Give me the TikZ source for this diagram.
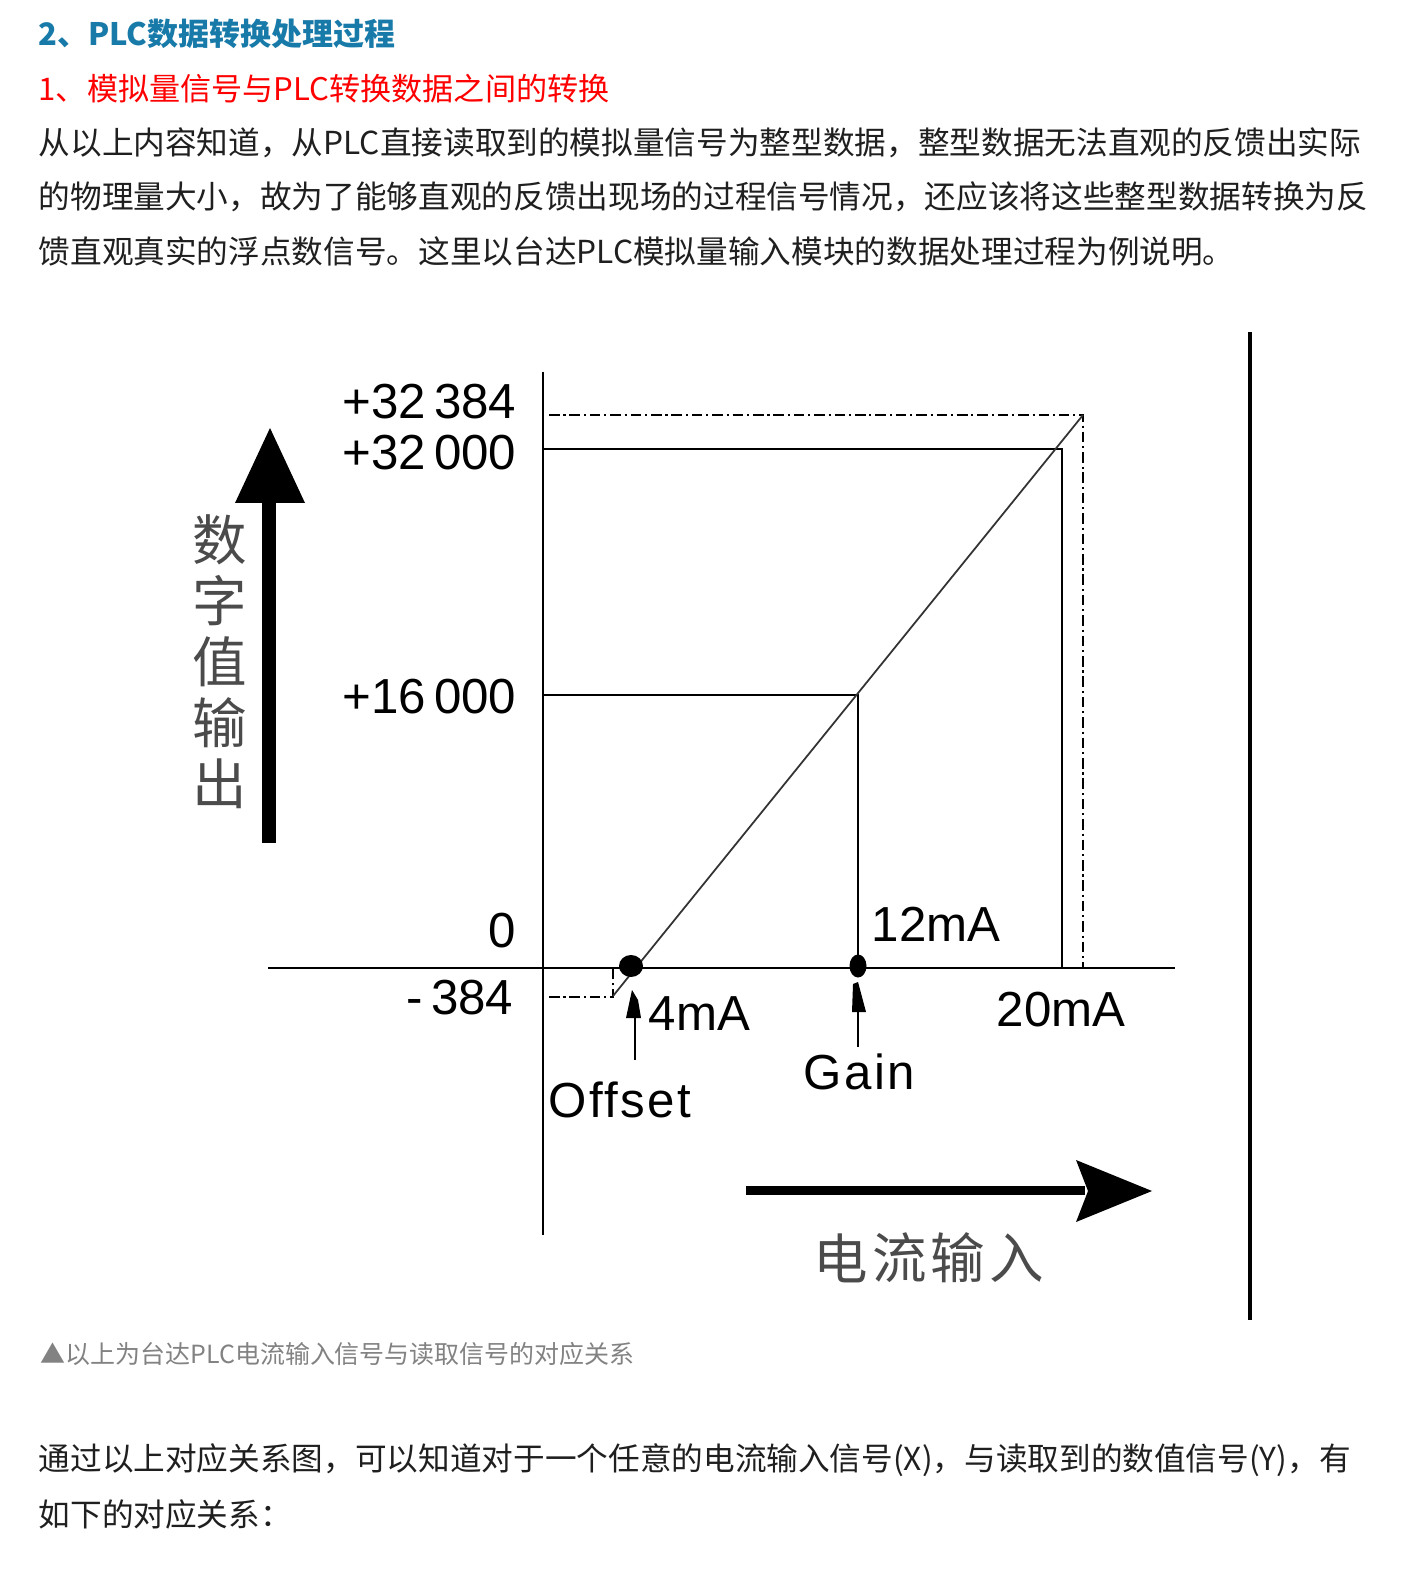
\documentclass[tikz,border=0pt]{standalone}
\usepackage{fontspec}
\usepackage{xcolor}
\usetikzlibrary{positioning,calc}
\newfontfamily\cjk{Noto Sans CJK SC}
\newfontfamily\numfont{Liberation Sans}
\newfontfamily\spacedfont[LetterSpace=5]{Liberation Sans}
\definecolor{headblue}{RGB}{24,122,168}
\definecolor{captgray}{RGB}{130,130,130}
\definecolor{axisgray}{RGB}{75,75,75}

\tikzset{
  bodytext/.style={anchor=west,inner sep=0pt,text=black!88,
    font=\cjk\fontsize{9pt}{11pt}\selectfont},
  numlabel/.style={inner sep=0pt,font=\numfont\fontsize{14pt}{16pt}\selectfont},
  axislabel/.style={inner sep=0pt,text=axisgray,
    font=\cjk\fontsize{15.5pt}{17pt}\selectfont},
  guide/.style={line width=0.45pt},
  dashdot/.style={line width=0.45pt,dash pattern=on 3pt off 1.1pt on 0.6pt off 1.1pt},
}

\begin{document}
\begin{tikzpicture}[x=0.01cm,y=-0.01cm]
\fill[white] (0,0) rectangle (1421,1571);
\useasboundingbox (0,0) rectangle (1421,1571);

% Heading and text above the chart
\node[bodytext,text=headblue,font=\cjk\bfseries\fontsize{8.8pt}{11pt}\selectfont] (title) at (38,34) {2、PLC数据转换处理过程};
\node[bodytext,text=red,font=\cjk\fontsize{8.85pt}{11pt}\selectfont] (subtitle) at (38,89) {1、模拟量信号与PLC转换数据之间的转换};
\node[bodytext] (para1) at (38,143) {从以上内容知道，从PLC直接读取到的模拟量信号为整型数据，整型数据无法直观的反馈出实际};
\node[bodytext] (para2) at (38,197) {的物理量大小，故为了能够直观的反馈出现场的过程信号情况，还应该将这些整型数据转换为反};
\node[bodytext] (para3) at (38,251) {馈直观真实的浮点数信号。这里以台达PLC模拟量输入模块的数据处理过程为例说明。};

% Axes
\coordinate (ytop) at (543,372);
\coordinate (ybot) at (543,1235);
\coordinate (xleft) at (268,968);
\coordinate (xright) at (1175,968);
\draw[line width=0.55pt] (ytop) -- (ybot);
\draw[line width=0.55pt] (xleft) -- (xright);
\draw[line width=1pt] (1250,332) -- (1250,1320);

% Guide lines for 12mA and 20mA
\coordinate (g12) at (858,695);
\coordinate (g20) at (1062,449);
\draw[guide] (543,695) -- (g12) -- (858,968);
\draw[guide] (543,449) -- (g20) -- (1062,968);

% Dash-dot limits
\coordinate (lim) at (1083,415);
\coordinate (low) at (613,996);
\draw[dashdot] (549,415) -- (lim) -- (1083,968);
\draw[dashdot] (549,997) -- (613,997) -- (613,969);

% Conversion line
\draw[line width=0.5pt,black!80] (low) -- (lim);

% Offset and gain points
\fill (631,966) ellipse [x radius=12, y radius=11];
\fill (858,966) ellipse [x radius=8.5, y radius=11.5];
\draw[line width=0.5pt] (635,1060) -- (635,1005);
\fill (632,990) -- (626,1018) -- (641,1018) -- (638,1000) -- cycle;
\draw[line width=0.5pt] (858,1047) -- (858,1008);
\fill (853,984) -- (858,982) -- (866,1012) -- (852,1012) -- cycle;

% Value labels
\node[numlabel,anchor=east] (v32384) at (517,402) {+32\,384};
\node[numlabel,anchor=east] (v32000) at (517,453) {+32\,000};
\node[numlabel,anchor=east] (v16000) at (517,697) {+16\,000};
\node[numlabel,anchor=east] (vzero) at (517,931) {0};
\node[numlabel,anchor=east] (vneg) at (514,998) {-\,384};
\node[numlabel,anchor=west] (l12) at (871,924) {12mA};
\node[numlabel,anchor=west] (l4) at (648,1014) {4mA};
\node[numlabel,anchor=west] (l20) at (996,1010) {20mA};
\node[numlabel,anchor=west,font=\spacedfont\fontsize{14pt}{16pt}\selectfont] (lgain) at (803,1072) {Gain};
\node[numlabel,anchor=west,font=\spacedfont\fontsize{14pt}{16pt}\selectfont] (loffset) at (548,1100) {Offset};

% Big axis arrows
\fill (262,843) rectangle (276,500);
\fill (235,503) -- (270,428) -- (305,503) -- cycle;
\fill (746,1186) rectangle (1085,1195);
\fill (1076,1160) -- (1152,1191) -- (1076,1222) -- (1088,1191) -- cycle;

% Axis captions
\foreach \ch [count=\i] in {数,字,值,输,出}
    \node[axislabel] (ylab\i) at (220,{540+61*(\i-1)}) {\ch};
\foreach \ch/\x [count=\i] in {电/841,流/900,输/958,入/1017}
    \node[axislabel] (xlab\i) at (\x,1258) {\ch};

% Caption and text below the chart
\node[bodytext,text=captgray,font=\cjk\fontsize{7.1pt}{9pt}\selectfont] (caption) at (40,1354) {▲以上为台达PLC电流输入信号与读取信号的对应关系};
\node[bodytext] (para4) at (38,1460) {通过以上对应关系图，可以知道对于一个任意的电流输入信号(X)，与读取到的数值信号(Y)，有};
\node[bodytext] (para5) at (38,1514) {如下的对应关系：};
\end{tikzpicture}
\end{document}
